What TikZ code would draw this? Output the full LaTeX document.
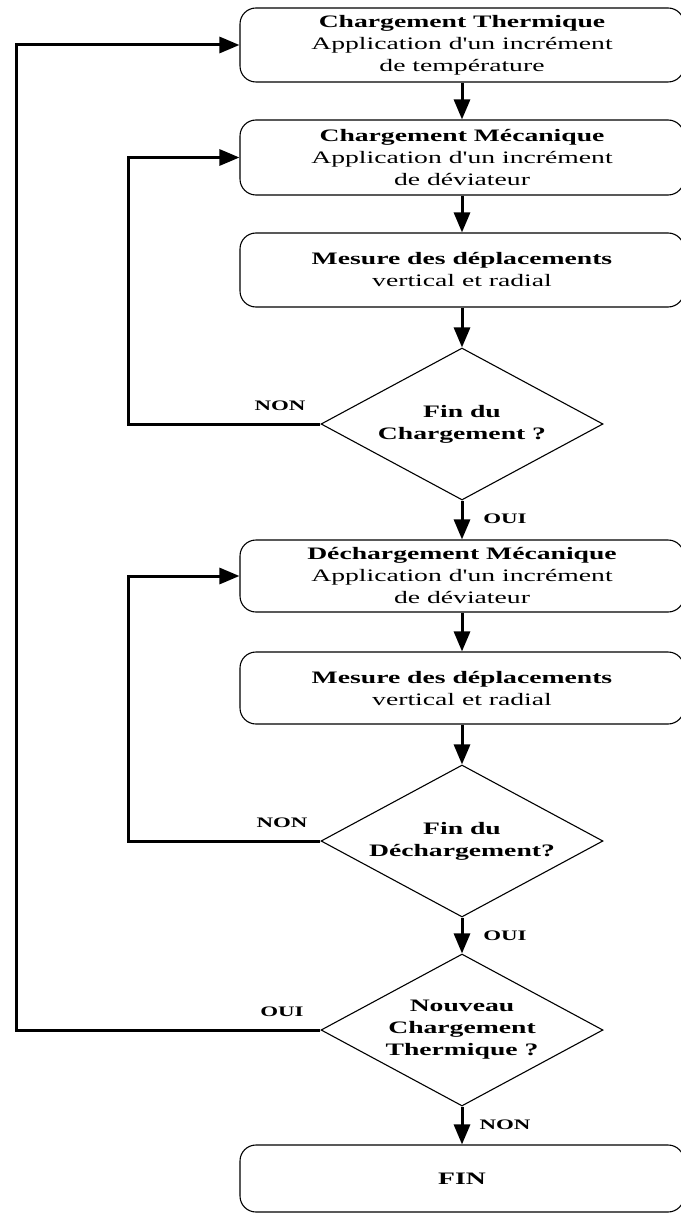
\documentclass[tikz,border=0pt]{standalone}
\usepackage{fontspec}
\setmainfont{Liberation Serif}[FakeStretch=1.58, Ligatures=TeXOff]
\usetikzlibrary{shapes.geometric,arrows.meta}
\begin{document}
\begin{tikzpicture}[x=1pt,y=-1pt,
  txt/.style={font=\fontsize{17.5}{22}\selectfont},
  stepbox/.style={draw, rectangle, rounded corners=16pt, line width=1.1pt,
    minimum width=444pt, inner sep=0pt, align=center, txt},
  decision/.style={draw, diamond, line width=1.1pt, minimum width=282pt,
    minimum height=152pt, inner sep=0pt},
  dtext/.style={align=center, inner sep=0pt,
    font=\fontsize{17.5}{22}\selectfont\bfseries},
  conn/.style={line width=3pt, -{Triangle[length=20pt,width=16pt]}},
  lab/.style={font=\fontsize{14.5}{17}\selectfont\bfseries, inner sep=0pt}]
\useasboundingbox (0,0) rectangle (680,1214);

\node[stepbox, minimum height=74pt] (b1) at (462,45)
  {\textbf{Chargement Thermique}\\Application d'un incrément\\de température};
\node[stepbox, minimum height=75pt] (b2) at (462,157.5)
  {\textbf{Chargement Mécanique}\\Application d'un incrément\\de déviateur};
\node[stepbox, minimum height=74pt] (b3) at (462,270)
  {\textbf{Mesure des déplacements}\\vertical et radial};
\node[decision] (d1) at (462,424) {};
\node[dtext] (t1) at (d1.center) {Fin du\\Chargement ?};
\node[stepbox, minimum height=72pt] (b4) at (462,576)
  {\textbf{Déchargement Mécanique}\\Application d'un incrément\\de déviateur};
\node[stepbox, minimum height=72pt] (b5) at (462,688)
  {\textbf{Mesure des déplacements}\\vertical et radial};
\node[decision] (d2) at (462,841) {};
\node[dtext] (t2) at (d2.center) {Fin du\\Déchargement?};
\node[decision] (d3) at (462,1030) {};
\node[dtext] (t3) at (d3.center) {Nouveau\\Chargement\\Thermique ?};
\node[stepbox, minimum height=67pt] (b6) at (462,1178.5) {\textbf{FIN}};

\draw[conn] (b1) -- (b2);
\draw[conn] (b2) -- (b3);
\draw[conn] (b3) -- (d1);
\draw[conn] (d1) -- (b4);
\draw[conn] (b4) -- (b5);
\draw[conn] (b5) -- (d2);
\draw[conn] (d2) -- (d3);
\draw[conn] (d3) -- (b6);

\coordinate (c1) at (16,1030);
\coordinate (c2) at (128,424);
\coordinate (c3) at (128,841);
\draw[conn] (d3.west) -- (c1) |- (b1.west);
\draw[conn] (d1.west) -- (c2) |- (b2.west);
\draw[conn] (d2.west) -- (c3) |- (b4.west);

\node[lab] (l1) at (280,406) {NON};
\node[lab] (l2) at (505,519) {OUI};
\node[lab] (l3) at (282,823) {NON};
\node[lab] (l4) at (505,936) {OUI};
\node[lab] (l5) at (282,1012) {OUI};
\node[lab] (l6) at (505,1125) {NON};
\end{tikzpicture}
\end{document}
